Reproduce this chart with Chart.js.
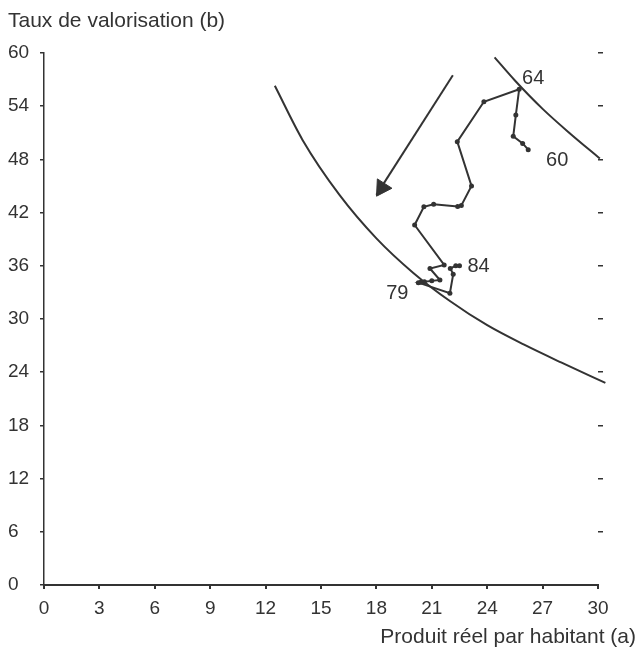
<!DOCTYPE html>
<html><head><meta charset="utf-8">
<script src="https://cdn.jsdelivr.net/npm/chart.js@4"></script>
<style>html,body{margin:0;padding:0;background:#fff}#wrap{width:639px;height:652px}</style>
</head><body><div id="wrap"><canvas id="c" width="639" height="652"></canvas></div>
<script>
// Trajectory 1960-1984
const pathYears = ['60','61','62','63','64','65','66','67','68','69','70','71','72','73','74','75','76','77','78','79','80','81','82','83','84'];
const pathA = [26.22,25.92,25.41,25.55,25.73,23.82,22.38,23.15,22.6,22.4,21.1,20.57,20.07,21.67,20.9,21.44,21.0,20.6,20.4,20.27,21.98,22.16,22.0,22.3,22.5];
const pathB = [49.1,49.8,50.6,53.0,55.9,54.5,50.0,45.0,42.8,42.7,42.95,42.65,40.6,36.1,35.7,34.4,34.3,34.2,34.15,34.1,32.9,35.06,35.7,36.0,36.0];
// Iso curves
const lowCurveA = [12.5,14,16,18,20,22,24,26,28,30.4];
const lowCurveB = [56.3,50.2,44.0,39.1,35.2,32.0,29.3,27.1,25.1,22.8];
const highCurveA = [24.4,25.5,27,28.5,30.1];
const highCurveB = [59.5,56.9,53.7,50.9,48.1];
// Arrow
const arrowA = [22.14,18.0];
const arrowB = [57.5,44.0];
const arrowHeadA = [18.3];
const arrowHeadB = [44.8];
// Labelled years
const labelYears = ['60','64','79','84'];
// Axis
const xMin = 0, xMax = 30, xStep = 3;
const yMin = 0, yMax = 60, yStep = 6;
const yTitle = 'Taux de valorisation (b)';
const xTitle = 'Produit réel par habitant (a)';

const INK = '#333333';
const FONT = '"Liberation Sans", Arial, sans-serif';
const zip = (a,b) => a.map((v,i)=>({x:v,y:b[i]}));

const labelOffsets = {'60':[29,11],'64':[14,-11],'79':[-21,11],'84':[19,1]};

const textPlugin = {
  id:'texts',
  afterDraw(chart){
    const ctx = chart.ctx, xs = chart.scales.x, ys = chart.scales.y;
    ctx.save();
    ctx.fillStyle = INK;
    ctx.font = '21px ' + FONT;
    ctx.textBaseline = 'middle';
    ctx.textAlign = 'left';
    ctx.fillText(yTitle, 8, 21);
    ctx.textAlign = 'right';
    ctx.fillText(xTitle, 636, 637);
    ctx.font = '20px ' + FONT;
    ctx.textAlign = 'center';
    labelYears.forEach(yr=>{
      const i = pathYears.indexOf(yr);
      const px = xs.getPixelForValue(pathA[i]), py = ys.getPixelForValue(pathB[i]);
      const o = labelOffsets[yr];
      ctx.fillText(yr, px+o[0], py+o[1]);
    });
    ctx.restore();
  }
};

new Chart(document.getElementById('c'), {
  type:'scatter',
  data:{datasets:[
    {data:zip(lowCurveA,lowCurveB), showLine:true, borderColor:INK, borderWidth:2, pointRadius:0, cubicInterpolationMode:'monotone', clip:false},
    {data:zip(highCurveA,highCurveB), showLine:true, borderColor:INK, borderWidth:2, pointRadius:0, cubicInterpolationMode:'monotone', clip:false},
    {data:zip(pathA,pathB), showLine:true, borderColor:INK, borderWidth:2, pointRadius:2.5, pointBackgroundColor:INK, pointBorderWidth:0, tension:0},
    {data:zip(arrowA,arrowB), showLine:true, borderColor:INK, borderWidth:2, pointRadius:0},
    {data:zip(arrowHeadA,arrowHeadB), pointStyle:'triangle', pointRadius:10, rotation:212.7, pointBackgroundColor:INK, pointBorderColor:INK, pointBorderWidth:1}
  ]},
  options:{
    responsive:false, animation:false, events:[],
    layout:{padding:{left:8, right:0, top:53, bottom:0}},
    plugins:{legend:{display:false}, tooltip:{enabled:false}, title:{display:false}},
    scales:{
      x:{type:'linear', min:xMin, max:xMax,
        afterFit:s=>{s.height=67;},
        border:{display:true, color:INK, width:2},
        grid:{display:true, drawOnChartArea:false, drawTicks:true, tickLength:4, color:INK, lineWidth:2},
        ticks:{stepSize:xStep, color:INK, font:{family:FONT, size:19}, padding:8}
      },
      y:{type:'linear', min:yMin, max:yMax, position:'left',
        afterFit:s=>{s.width=36;},
        border:{display:true, color:INK, width:1.5},
        grid:{display:true, drawOnChartArea:false, drawTicks:true, tickLength:4, color:INK, lineWidth:1.5},
        ticks:{stepSize:yStep, color:INK, font:{family:FONT, size:19}, crossAlign:'far', padding:6}
      },
      y2:{type:'linear', min:yMin, max:yMax, position:'right',
        afterFit:s=>{s.width=41;},
        border:{display:false},
        grid:{display:true, drawOnChartArea:false, drawTicks:true, tickLength:5, color:INK, lineWidth:1.5,
          tickColor:(c)=> (c.tick && c.tick.value===0) ? 'rgba(0,0,0,0)' : INK},
        ticks:{stepSize:yStep, display:false}
      }
    }
  },
  plugins:[textPlugin]
});
</script></body></html>
